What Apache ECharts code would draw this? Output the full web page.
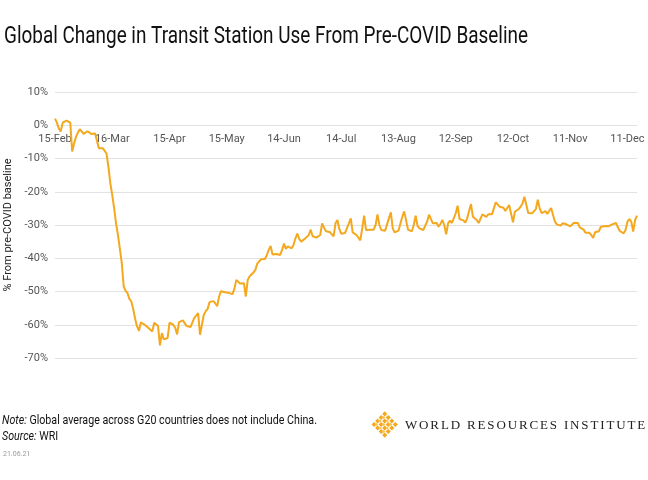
<!DOCTYPE html>
<html>
<head>
<meta charset="utf-8">
<script src="https://cdn.jsdelivr.net/npm/echarts@6/dist/echarts.min.js"></script>
<style>
html,body{margin:0;padding:0;background:#fff;}
#chart{width:648px;height:480px;}
</style>
</head>
<body>
<div id="chart"></div>
<script>
// ---- data ----
const startDate = '2020-02-15';
const monthNames = ['Jan','Feb','Mar','Apr','May','Jun','Jul','Aug','Sep','Oct','Nov','Dec'];
const yTicks = [-70, -60, -50, -40, -30, -20, -10, 0, 10];
const transitChange = [
  2.0, 0.8, -1.0, -1.9, 0.8, 0.5, 1.4, 0.8, 0.8, -7.9,
  -5.5, -3.5, -2.2, -1.2, -1.5, -2.6, -2.0, -1.8, -1.6, -2.6,
  -2.2, -2.5, -2.2, -6.9, -7.0, -6.9, -7.0, -8.5, -12.5, -17.5,
  -21.0, -25.0, -29.5, -33.0, -37.2, -41.5, -48.5, -49.8, -50.5, -52.2,
  -53.0, -55.3, -58.2, -60.5, -61.8, -59.3, -59.2, -60.0, -60.6, -61.0,
  -60.6, -62.0, -59.4, -58.9, -60.4, -66.2, -62.5, -64.4, -64.4, -64.0,
  -59.4, -59.6, -60.0, -60.9, -62.9, -59.2, -59.0, -58.7, -58.5, -60.4,
  -60.9, -60.7, -60.8, -57.9, -57.7, -56.5, -63.0, -60.0, -57.0, -55.9,
  -55.2, -53.2, -53.2, -52.9, -53.6, -54.4, -51.5, -49.9, -50.0, -50.2,
  -50.4, -50.4, -50.2, -50.8, -49.2, -46.5, -46.0, -47.6, -47.2, -47.5,
  -51.5, -46.5, -45.4, -44.8, -44.3, -43.5, -41.6, -42.0, -40.3, -39.8,
  -40.2, -39.1, -37.5, -36.3, -38.9, -38.5, -38.7, -39.2, -39.0, -37.5,
  -35.6, -37.2, -36.4, -36.8, -37.0, -36.0, -34.0, -32.6, -34.2, -35.0,
  -34.5, -34.1, -33.6, -33.0, -31.4, -33.4, -33.2, -33.8, -34.0, -33.0,
  -29.5, -30.8, -31.9, -32.3, -32.1, -32.5, -33.4, -29.5, -28.5, -31.2,
  -32.6, -32.6, -32.4, -31.9, -29.5, -28.0, -32.2, -32.5, -33.0, -33.6,
  -34.6, -31.0, -27.2, -31.5, -32.0, -31.4, -31.2, -31.4, -30.0, -26.8,
  -30.0, -31.5, -31.8, -31.7, -31.9, -28.0, -26.2, -31.0, -32.2, -32.0,
  -31.7, -31.4, -27.5, -25.9, -26.2, -31.4, -31.6, -31.9, -30.0, -27.2,
  -30.3, -31.0, -31.4, -31.5, -31.5, -29.0, -26.9, -27.2, -29.5, -29.8,
  -29.4, -30.5, -29.7, -28.5, -30.0, -32.8, -29.5, -28.7, -29.4, -29.0,
  -26.5, -24.2, -28.2, -28.4, -28.6, -29.3, -28.0, -25.8, -23.7, -27.5,
  -28.1, -28.5, -29.4, -29.2, -26.8, -26.2, -27.6, -26.8, -27.1, -26.8,
  -26.3, -23.2, -23.0, -24.5, -24.9, -24.8, -25.8, -26.0, -24.0, -23.5,
  -29.2, -26.0, -25.4, -25.2, -24.5, -23.5, -21.5, -24.0, -26.4, -26.6,
  -26.5, -26.2, -25.2, -22.4, -25.0, -26.4, -26.0, -25.8, -26.7, -26.6,
  -24.9, -27.0, -29.0, -29.8, -29.6, -30.2, -29.5, -29.5, -29.8, -29.5,
  -30.4, -30.0, -29.3, -29.1, -29.4, -30.7, -30.7, -31.4, -32.3, -31.7,
  -32.3, -33.0, -33.9, -32.2, -31.7, -31.9, -30.6, -30.5, -30.3, -30.0,
  -30.4, -30.3, -29.8, -29.6, -29.4, -30.7, -31.8, -31.7, -32.5, -31.5,
  -29.0, -28.2, -29.0, -32.0, -28.5, -27.2
];
// category dates (one per data point, daily from startDate)
const dateLabels = [];
(function(){
  const d0 = new Date(startDate + 'T00:00:00Z');
  for (let i = 0; i < transitChange.length; i++) {
    const d = new Date(d0.getTime() + i * 86400000);
    dateLabels.push(d.getUTCDate() + '-' + monthNames[d.getUTCMonth()]);
  }
})();

const TITLE = 'Global Change in Transit Station Use From Pre-COVID Baseline';
const NOTE_I = 'Note:', NOTE_R = ' Global average across G20 countries does not include China.';
const SRC_I = 'Source:', SRC_R = ' WRI';
const WRI_NAME = 'WORLD RESOURCES INSTITUTE';

const SANS = "Roboto, 'Liberation Sans', sans-serif";
const SERIF = "'Liberation Serif', 'DejaVu Serif', serif";
const mctx = document.createElement('canvas').getContext('2d');
function tw(text, font){ mctx.font = font; return mctx.measureText(text).width; }

const W = 648, H = 480;
const GRID = {left: 55, right: 11, top: 92, bottom: 122};
const yMin = yTicks[0], yMax = yTicks[yTicks.length - 1];
// move the category axis (and its labels) up to the 0% line
const zeroOffset = -(H - GRID.top - GRID.bottom) * (0 - yMin) / (yMax - yMin);

const titleFont = '24px ' + SANS;
const titleScale = 524 / tw(TITLE, titleFont);
const noteScale = 315 / (tw(NOTE_I, 'italic 13px ' + SANS) + tw(NOTE_R, '13px ' + SANS));

const GOLD = '#F4A81E';
const graphics = [
  {type: 'text', x: 4, y: 25, scaleX: titleScale, style: {text: TITLE, font: titleFont, fill: '#111', align: 'left', verticalAlign: 'top'}},
  {type: 'text', x: 2, y: 414, scaleX: noteScale, style: {text: '{i|' + NOTE_I + '}' + NOTE_R, font: '13px ' + SANS, fill: '#111', rich: {i: {fontStyle: 'italic', fontSize: 13, fontFamily: SANS, fill: '#111'}}}},
  {type: 'text', x: 2, y: 430, scaleX: noteScale, style: {text: '{i|' + SRC_I + '}' + SRC_R, font: '13px ' + SANS, fill: '#111', rich: {i: {fontStyle: 'italic', fontSize: 13, fontFamily: SANS, fill: '#111'}}}},
  {type: 'text', x: 3, y: 451, style: {text: '21.06.21', font: '7px ' + SANS, fill: '#999'}}
];
// WRI wordmark with letter tracking (each glyph padded)
const wriFont = '13px ' + SERIF;
const track = Math.max(0, (242 - tw(WRI_NAME, wriFont)) / WRI_NAME.length);
graphics.push({type: 'text', x: 405, y: 419, style: {
  text: WRI_NAME.split('').map(function(c){ return '{t|' + c + '}'; }).join(''),
  font: wriFont, fill: '#222',
  rich: {t: {fontSize: 13, fontFamily: SERIF, fill: '#222', padding: [0, track, 0, 0]}}
}});
// WRI emblem: lattice of small squares in a diamond
const emblem = [];
for (let i = 0; i < 4; i++) {
  for (let j = 0; j < 4; j++) {
    emblem.push({type: 'rect', shape: {x: -9.5 + i * 5, y: -9.5 + j * 5, width: 3.6, height: 3.6}, style: {fill: GOLD}});
  }
}
for (let i = 0; i < 3; i++) {
  for (let j = 0; j < 3; j++) {
    emblem.push({type: 'rect', shape: {x: -7.2 + i * 5, y: -7.2 + j * 5, width: 2.4, height: 2.4}, style: {fill: '#F9C45A'}});
  }
}
graphics.push({type: 'group', x: 385, y: 424.5, rotation: Math.PI / 4, children: emblem});

const chart = echarts.init(document.getElementById('chart'), null, {renderer: 'canvas'});
chart.setOption({
  backgroundColor: '#fff',
  animation: false,
  grid: {left: GRID.left, right: GRID.right, top: GRID.top, bottom: GRID.bottom, containLabel: false, outerBoundsMode: 'none'},
  xAxis: {
    type: 'category',
    data: dateLabels,
    boundaryGap: false,
    offset: zeroOffset,
    axisLine: {show: false},
    axisTick: {show: false},
    splitLine: {show: false},
    axisLabel: {interval: 29, color: '#555', fontSize: 11, fontFamily: SANS, margin: 8}
  },
  yAxis: {
    type: 'value',
    min: yMin, max: yMax, interval: 10,
    name: '% From pre-COVID baseline',
    nameLocation: 'middle', nameRotate: 90, nameGap: 31,
    nameTextStyle: {color: '#222', fontSize: 11, fontFamily: SANS},
    axisLine: {show: false}, axisTick: {show: false},
    axisLabel: {formatter: '{value}%', color: '#555', fontSize: 11, fontFamily: SANS, margin: 7},
    splitLine: {lineStyle: {color: '#e2e2e2', width: 1}}
  },
  series: [{
    type: 'line',
    data: transitChange,
    symbol: 'none',
    lineStyle: {color: GOLD, width: 2},
    itemStyle: {color: GOLD}
  }],
  graphic: graphics
});
</script>
</body>
</html>
